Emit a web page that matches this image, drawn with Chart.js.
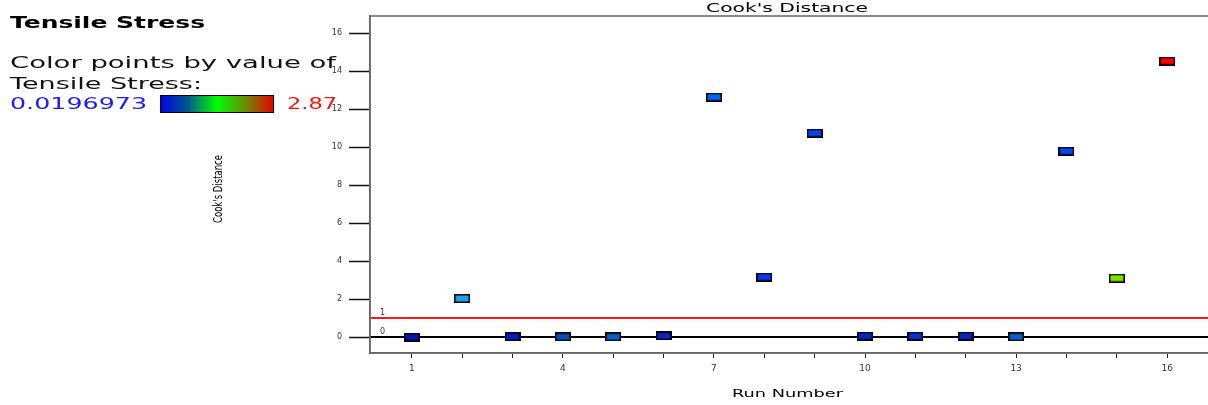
<!DOCTYPE html>
<html>
<head>
<meta charset="utf-8">
<script src="https://cdn.jsdelivr.net/npm/chart.js@4.4.1/dist/chart.umd.min.js"></script>
<style>
  html, body { margin: 0; padding: 0; background: #fff; overflow: hidden; }
  #wrap { position: relative; width: 1208px; height: 405px; overflow: hidden; }
  #chart { display: block; }
</style>
</head>
<body>
<div id="wrap"><canvas id="chart" width="1215" height="405"></canvas></div>
<script>
// data
const runNumbers = [1, 2, 3, 4, 5, 6, 7, 8, 9, 10, 11, 12, 13, 14, 15, 16];
const cooksD = [0.0, 2.03, 0.02, 0.01, 0.01, 0.06, 12.63, 3.16, 10.74, 0.05, 0.05, 0.05, 0.01, 9.79, 3.1, 14.53];
const pointColors = ['#0a14a8', '#1ea0ee', '#0a1cb8', '#0a4fb0', '#0a5cc0', '#0a22c0', '#0a62f0', '#0a34f0',
  '#0a44f0', '#0a22c0', '#0a30d0', '#0a22c0', '#0a60c8', '#0a44f0', '#80e000', '#ff0000'];
const yTicks = [0, 2, 4, 6, 8, 10, 12, 14, 16];
const xTicks = [1, 2, 3, 4, 5, 6, 7, 8, 9, 10, 11, 12, 13, 14, 15, 16];
const xTickLabels = [1, 4, 7, 10, 13, 16];
const refLines = [
  { value: 1, color: '#ff1a1a', label: '1' },
  { value: 0, color: '#000000', label: '0' },
];
const legendMin = '0.0196973';
const legendMax = '2.87';

// little rectangles used as point markers
function makeMarker(color) {
  const c = document.createElement('canvas');
  c.width = 16;
  c.height = 9;
  const g = c.getContext('2d');
  g.fillStyle = color;
  g.fillRect(1, 1, 14, 7);
  g.strokeStyle = '#000';
  g.lineWidth = 1.5;
  g.strokeRect(0.75, 0.75, 14.5, 7.5);
  return c;
}

// draw text squeezed/stretched to a given width
function fitText(ctx, text, x, y, width, font, color) {
  ctx.save();
  ctx.font = font;
  ctx.fillStyle = color;
  ctx.textBaseline = 'alphabetic';
  ctx.textAlign = 'left';
  const w = ctx.measureText(text).width;
  ctx.translate(x, y);
  ctx.scale(width / w, 1);
  ctx.fillText(text, 0, 0);
  ctx.restore();
}

const decorations = {
  id: 'decorations',
  beforeDatasetsDraw(chart) {
    const { ctx, chartArea, scales } = chart;
    ctx.save();
    refLines.forEach((r) => {
      const py = scales.y.getPixelForValue(r.value);
      ctx.strokeStyle = r.color;
      ctx.lineWidth = 2;
      ctx.beginPath();
      ctx.moveTo(chartArea.left, py);
      ctx.lineTo(chartArea.right, py);
      ctx.stroke();
      ctx.fillStyle = '#333';
      ctx.font = '8px "DejaVu Sans"';
      ctx.textAlign = 'left';
      ctx.fillText(r.label, chartArea.left + 10, py - 3);
    });
    ctx.restore();
  },
  afterDraw(chart) {
    const { ctx, chartArea } = chart;
    ctx.save();
    // frame
    ctx.strokeStyle = '#666';
    ctx.lineWidth = 1.5;
    ctx.strokeRect(chartArea.left, chartArea.top, chartArea.right - chartArea.left + 5, chartArea.bottom - chartArea.top);

    // titles
    fitText(ctx, "Cook's Distance", 706, 12, 162, '12px "DejaVu Sans"', '#000');
    fitText(ctx, 'Run Number', 732, 397, 111, '11px "DejaVu Sans"', '#000');
    ctx.save();
    ctx.translate(222, 223);
    ctx.rotate(-Math.PI / 2);
    fitText(ctx, "Cook's Distance", 0, 0, 68, '13px "DejaVu Sans Condensed", "DejaVu Sans"', '#000');
    ctx.restore();

    // colour legend
    fitText(ctx, 'Tensile Stress', 10, 28, 195, 'bold 16px "DejaVu Sans"', '#000');
    fitText(ctx, 'Color points by value of', 10, 68, 326, '16px "DejaVu Sans"', '#111');
    fitText(ctx, 'Tensile Stress:', 10, 89, 192, '16px "DejaVu Sans"', '#111');
    fitText(ctx, legendMin, 10, 109, 137, '16px "DejaVu Sans"', '#1a1aff');
    fitText(ctx, legendMax, 287, 109, 50, '16px "DejaVu Sans"', '#ff1010');
    const grad = ctx.createLinearGradient(160, 0, 274, 0);
    grad.addColorStop(0, '#0000e6');
    grad.addColorStop(0.25, '#005a8c');
    grad.addColorStop(0.5, '#00ff00');
    grad.addColorStop(0.75, '#6e8a00');
    grad.addColorStop(1, '#e60000');
    ctx.fillStyle = grad;
    ctx.fillRect(160, 95, 114, 17);
    ctx.strokeStyle = '#000';
    ctx.lineWidth = 1;
    ctx.strokeRect(160.5, 95.5, 113, 17);
    ctx.restore();
  },
};

new Chart(document.getElementById('chart'), {
  type: 'scatter',
  data: {
    datasets: [
      {
        label: "Cook's Distance",
        data: runNumbers.map((r, i) => ({ x: r, y: cooksD[i] })),
        pointStyle: pointColors.map(makeMarker),
        pointRadius: 5,
      },
    ],
  },
  options: {
    responsive: false,
    animation: false,
    layout: { padding: { top: 16, left: 0, right: 0, bottom: 0 } },
    plugins: {
      legend: { display: false },
      tooltip: { enabled: false },
    },
    scales: {
      x: {
        type: 'linear',
        min: 0.17,
        max: 16.83,
        afterFit(scale) {
          scale.height = 52;
        },
        afterBuildTicks(scale) {
          scale.ticks = xTicks.map((v) => ({ value: v }));
        },
        ticks: {
          autoSkip: false,
          maxRotation: 0,
          padding: 5,
          color: '#333',
          font: { family: 'DejaVu Sans', size: 9 },
          callback: (v) => (xTickLabels.includes(v) ? String(v) : ''),
        },
        grid: { drawOnChartArea: false, drawTicks: true, tickLength: 5, tickColor: '#222', tickWidth: 1 },
        border: { display: true, color: '#666', width: 1.5 },
      },
      y: {
        min: -0.84,
        max: 16.9,
        afterFit(scale) {
          scale.width = 370;
        },
        afterBuildTicks(scale) {
          scale.ticks = yTicks.map((v) => ({ value: v }));
        },
        ticks: {
          padding: 7,
          color: '#333',
          font: { family: 'DejaVu Sans', size: 8 },
        },
        grid: { drawOnChartArea: false, drawTicks: true, tickLength: 21, tickColor: '#111', tickWidth: 1.5 },
        border: { display: true, color: '#666', width: 1.5 },
      },
    },
  },
  plugins: [decorations],
});
</script>
</body>
</html>
